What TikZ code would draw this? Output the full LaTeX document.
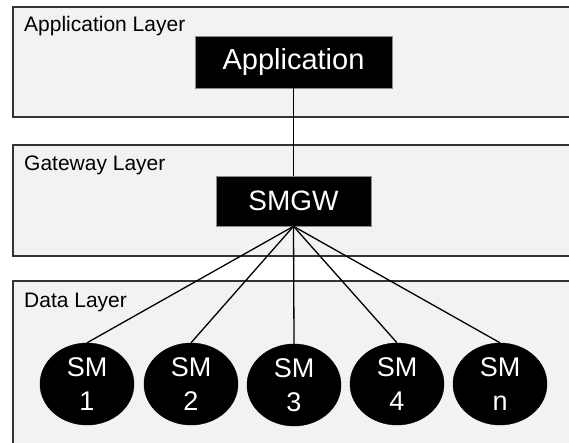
\documentclass[tikz,border=0pt]{standalone}
\usepackage{fontspec}
\setmainfont{Liberation Sans}
\usetikzlibrary{shapes.geometric}
\begin{document}
\begin{tikzpicture}[x=1pt,y=-1pt,
 layer/.style={draw=black!80, line width=1.4pt, fill=black!5},
 layerlabel/.style={anchor=base west, inner sep=0pt, font=\fontsize{21}{24}\selectfont},
 darkbox/.style={draw=black!45, line width=0.6pt, fill=black, text=white, inner sep=0pt},
 smnode/.style={ellipse, fill=black, draw=black, text=white, minimum width=94pt, minimum height=82pt, inner sep=0pt, align=center, font=\fontsize{27}{34}\selectfont},
 link/.style={line width=1.3pt, black}]
\useasboundingbox (0,0) rectangle (569,443);
\clip (0,0) rectangle (569,443);
% layers
\path[layer] (13,7) rectangle (585,117);
\path[layer] (13,145) rectangle (585,256);
\path[layer] (13,281) rectangle (585,460);
\node[layerlabel] (lapp) at (24,32) {Application Layer};
\node[layerlabel] (lgw) at (24,171) {Gateway Layer};
\node[layerlabel] (ldata) at (24,307) {Data Layer};
% nodes
\node[darkbox, minimum width=197pt, minimum height=52pt, font=\fontsize{29}{34}\selectfont] (app) at (293.5,62) {Application};
\node[darkbox, minimum width=155pt, minimum height=50pt, font=\fontsize{28}{34}\selectfont] (smgw) at (293.5,201) {SMGW};
\node[smnode] (sm1) at (87,384) {SM\\1};
\node[smnode] (sm2) at (191,384) {SM\\2};
\node[smnode] (sm3) at (294,385) {SM\\3};
\node[smnode] (sm4) at (397,384) {SM\\4};
\node[smnode] (smn) at (500,384) {SM\\n};
% connectors
\draw[link] (app.south) -- (smgw.north);
\foreach \s in {sm1,sm2,sm3,sm4,smn}{
  \draw[link] (smgw.south) -- (\s.north);
}
\end{tikzpicture}
\end{document}
